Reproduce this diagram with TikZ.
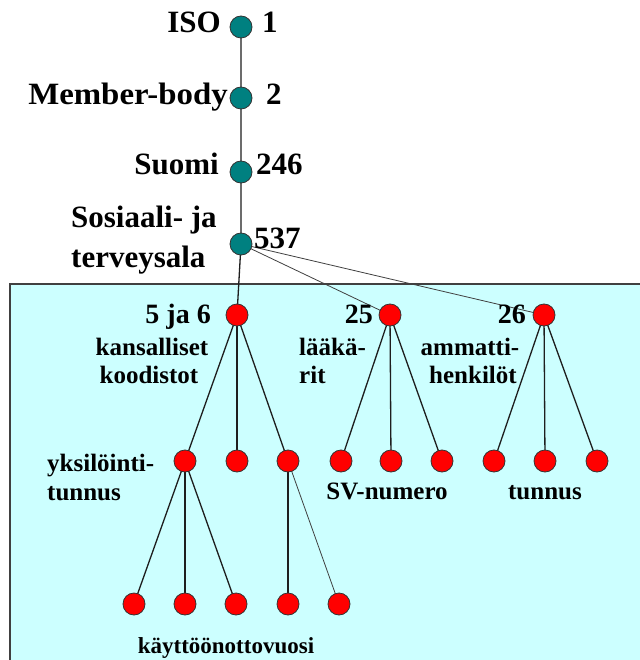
\documentclass[tikz,border=0pt]{standalone}
\usepackage{fontspec}
\setmainfont{Liberation Serif}
\definecolor{tealdot}{RGB}{0,128,128}
\definecolor{reddot}{RGB}{255,0,0}
\definecolor{panel}{RGB}{204,255,255}
\definecolor{edgegray}{RGB}{30,30,30}
\pgfdeclarelayer{backdrop}
\pgfdeclarelayer{edges}
\pgfsetlayers{backdrop,edges,main}
\begin{document}
\begin{tikzpicture}[x=1pt,y=-1pt,
  oid/.style={circle,draw=black!80,line width=0.8pt,inner sep=0pt,minimum size=22pt,fill=tealdot},
  leaf/.style={circle,draw=black!80,line width=0.8pt,inner sep=0pt,minimum size=22pt,fill=reddot},
  link/.style={draw=edgegray,line width=1.3pt},
  thinlink/.style={draw=edgegray!85,line width=0.8pt},
  biglbl/.style={font=\bfseries\fontsize{31}{31}\selectfont,inner sep=0pt,anchor=base east},
  numlbl/.style={font=\bfseries\fontsize{31}{31}\selectfont,inner sep=0pt,anchor=base west},
  biglft/.style={font=\bfseries\fontsize{31}{31}\selectfont,inner sep=0pt,anchor=base west},
  midnum/.style={font=\bfseries\fontsize{28}{28}\selectfont,inner sep=0pt,anchor=base east},
  txt/.style={font=\bfseries\fontsize{25}{25}\selectfont,inner sep=0pt,anchor=base west},
  ctxt/.style={font=\bfseries\fontsize{25}{25}\selectfont,inner sep=0pt,anchor=base}]
\useasboundingbox (0,0) rectangle (639,660);

% white ground and the shaded panel holding the national branch
\begin{pgfonlayer}{backdrop}
  \fill[white] (0,0) rectangle (639,660);
  \fill[panel] (10,284) rectangle (650,670);
  \draw[black!75,line width=2pt] (650,284) -- (10,284) -- (10,670);
\end{pgfonlayer}

% arc nodes
\node[oid] (iso) at (241,27) {};
\node[oid] (mb)  at (241,98) {};
\node[oid] (fi)  at (241,172) {};
\node[oid] (sos) at (241,244) {};

\node[leaf] (k)  at (237,315) {};
\node[leaf] (l)  at (390,315) {};
\node[leaf] (a)  at (544,315) {};

\node[leaf] (k1) at (185,461) {};
\node[leaf] (k2) at (237,461) {};
\node[leaf] (k3) at (288,461) {};
\node[leaf] (l1) at (341,461) {};
\node[leaf] (l2) at (391,461) {};
\node[leaf] (l3) at (442,461) {};
\node[leaf] (a1) at (494,461) {};
\node[leaf] (a2) at (545,461) {};
\node[leaf] (a3) at (597,461) {};

\node[leaf] (y1) at (134,604) {};
\node[leaf] (y2) at (185,604) {};
\node[leaf] (y3) at (236,604) {};
\node[leaf] (z1) at (288,604) {};
\node[leaf] (z2) at (339,604) {};

% connectors, drawn behind the dots
\begin{pgfonlayer}{edges}
  \draw[link] (iso.center) -- (mb.center) -- (fi.center) -- (sos.center) -- (k.center);
  \draw[thinlink] (sos.center) -- (l.center);
  \draw[thinlink] (sos.center) -- (a.center);
  \foreach \c in {k1,k2,k3} \draw[link] (k.center) -- (\c.center);
  \foreach \c in {l1,l2,l3} \draw[link] (l.center) -- (\c.center);
  \foreach \c in {a1,a2,a3} \draw[link] (a.center) -- (\c.center);
  \foreach \c in {y1,y2,y3} \draw[link] (k1.center) -- (\c.center);
  \draw[link] (k3.center) -- (z1.center);
  \draw[thinlink] (k3.center) -- (z2.center);
\end{pgfonlayer}

% labels of the upper arcs
\node[biglbl] (tIso) at (221,33) {ISO};
\node[numlbl] (nIso) at (262,33) {1};
\node[biglbl] (tMb) at (228,105) {\scalebox{1.06}[1]{Member-body}};
\node[numlbl] (nMb) at (266,105) {2};
\node[biglbl] (tFi) at (219,175) {Suomi};
\node[numlbl] (nFi) at (256,175) {246};
\node[biglft] (tSos1) at (71,227) {Sosiaali- ja};
\node[biglft] (tSos2) at (71,267) {terveysala};
\node[numlbl] (nSos) at (254,248) {537};

% labels of the national arcs
\node[midnum] (nK) at (211,323) {5 ja 6};
\node[midnum] (nL) at (373,323) {25};
\node[midnum] (nA) at (526,323) {26};
\node[ctxt] (tK1) at (152,355) {kansalliset};
\node[ctxt] (tK2) at (149,383) {koodistot};
\node[txt] (tL1) at (299,355) {lääkä-};
\node[txt] (tL2) at (299,383) {rit};
\node[ctxt] (tA1) at (470,355) {ammatti-};
\node[ctxt] (tA2) at (473,383) {henkilöt};
\node[txt] (tY1) at (47,471) {yksilöinti-};
\node[txt] (tY2) at (47,500) {tunnus};
\node[ctxt] (tSv) at (387,499) {SV-numero};
\node[ctxt] (tTu) at (545,499) {tunnus};
\node[ctxt,font=\bfseries\fontsize{23}{23}\selectfont] (tKv) at (226,653) {käyttöönottovuosi};
\end{tikzpicture}
\end{document}
